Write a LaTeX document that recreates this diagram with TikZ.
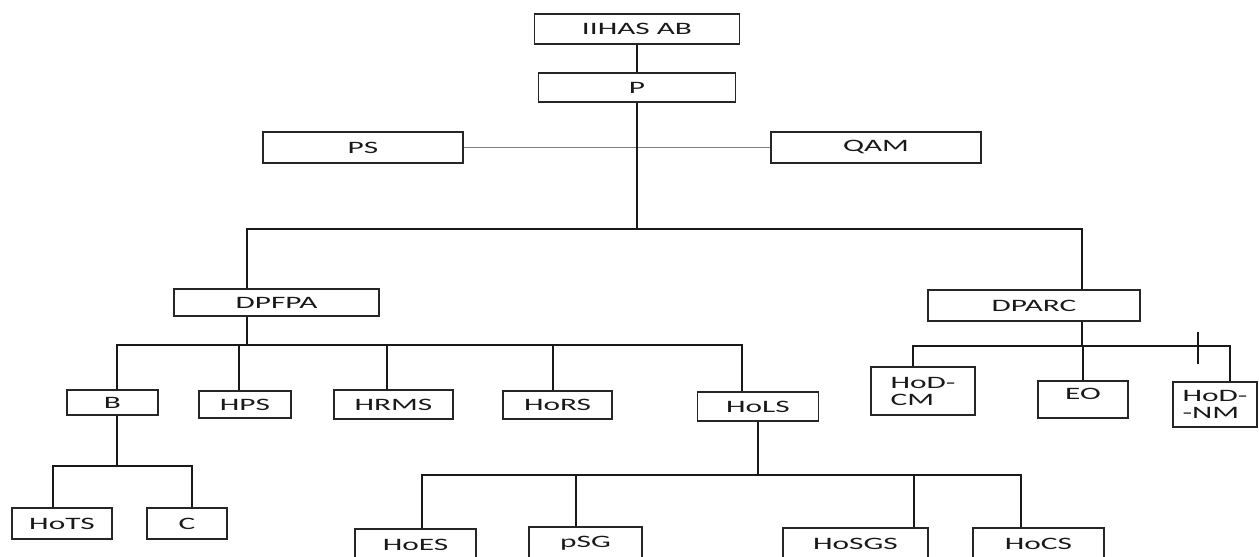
\documentclass[tikz,border=0pt]{standalone}
\usepackage{fontspec}
\newfontfamily\orgfont[FakeStretch=1.8]{Carlito}
\usetikzlibrary{positioning}
\newlength\px
\setlength\px{0.2mm}
\tikzset{
  box/.style 2 args={draw=black!85, line width=1.1pt, inner sep=0pt,
    minimum width=#1\px, minimum height=#2\px, align=left,
    font=\orgfont\fontsize{9.9}{9.7}\selectfont, text=black!90},
  link/.style={line width=1.1pt, black!90},
  thinlink/.style={line width=0.9pt, black!50}
}
\begin{document}
\begin{tikzpicture}[x=0.2mm, y=-0.2mm]
  \useasboundingbox (0,0) rectangle (1259,556);
  \clip (0,0) rectangle (1259,556);

  %vertice
  \node[box={205}{30}] (iihas) at (637,29) {IIHAS AB};
  \node[box={197}{29}] (p) at (637,87.5) {P};
  \node[box={200}{31}] (ps) at (363,147.5) {PS};
  \node[box={210}{31}] (qam) at (876,147.5) {QAM};
  %due direzioni
  \node[box={205}{27}] (dpfpa) at (276.5,302.5) {DPFPA};
  \node[box={212}{31}] (dparc) at (1034,305.5) {DPARC};
  %sotto DPFPA
  \node[box={91}{25}] (b) at (112.5,402.5) {B};
  \node[box={92}{27}] (hps) at (245,404.5) {HPS};
  \node[box={119}{29}] (hrms) at (393.5,404.5) {HRMS};
  \node[box={109}{28}] (hors) at (557.5,405) {HoRS};
  \node[box={121}{29}] (hols) at (758,406.5) {HoLS};
  %sotto DPARC
  \node[box={104}{48}] (hodcm) at (923,391) {HoD-\\CM};
  \node[box={90}{37}, text depth=2.4mm] (eo) at (1083,399.5) {EO};
  \node[box={84}{45}] (hodnm) at (1215,404.5) {HoD-\\-NM};
  %sotto B
  \node[box={100}{31}] (hots) at (62,523.5) {HoTS};
  \node[box={80}{31}] (c) at (187,523.5) {C};
  %sotto HoLS
  \node[box={121}{32}] (hoes) at (415.5,545) {HoES};
  \node[box={113}{32}] (psg) at (585.5,543) {pSG};
  \node[box={145}{32}] (hosgs) at (855.5,544) {HoSGS};
  \node[box={131}{32}] (hocs) at (1038.5,544) {HoCS};

  %collegamenti in alto
  \draw[thinlink] (ps) -- (qam);
  \coordinate (hub) at (637,229);
  \draw[link] (iihas) -- (p);
  \draw[link] (p) -- (hub);
  \draw[link] ([xshift=-29.5\px]dpfpa.north) |- (hub) -| ([xshift=48\px]dparc.north);

  %ramo DPFPA
  \coordinate (dpbar) at ([xshift=-29.5\px, yshift=-28\px]dpfpa.south);
  \draw[link] ([xshift=-29.5\px]dpfpa.south) -- (dpbar);
  \draw[link] ([xshift=4.5\px]b.north) |- (dpbar) -| ([xshift=-16\px]hols.north);
  \foreach \n/\dx in {hps/-6, hrms/-6.5, hors/-4.5}
    \draw[link] ([xshift=\dx\px]\n.north) -- ([xshift=\dx\px]\n.north |- dpbar);

  %ramo B
  \coordinate (bbar) at ([xshift=4.5\px, yshift=-50\px]b.south);
  \draw[link] ([xshift=4.5\px]b.south) -- (bbar);
  \draw[link] ([xshift=-9\px]hots.north) |- (bbar) -| ([xshift=5\px]c.north);

  %ramo HoLS
  \coordinate (hlbar) at ([yshift=-53\px]hols.south);
  \draw[link] (hols.south) -- (hlbar);
  \draw[link] ([xshift=6.5\px]hoes.north) |- (hlbar) -| ([xshift=-17.5\px]hocs.north);
  \foreach \n/\dx in {psg/-9.5, hosgs/58.5}
    \draw[link] ([xshift=\dx\px]\n.north) -- ([xshift=\dx\px]\n.north |- hlbar);

  %ramo DPARC
  \coordinate (dcbar) at ([xshift=48\px, yshift=-24\px]dparc.south);
  \draw[link] ([xshift=48\px]dparc.south) -- (dcbar);
  \draw[link] ([xshift=-10\px]hodcm.north) |- (dcbar) -| ([xshift=15\px]hodnm.north);
  \draw[link] (eo.north) -- (eo.north |- dcbar);
  \draw[link] ([xshift=-17\px, yshift=17\px]hodnm.north) -- ++(0,-32); %trattino
\end{tikzpicture}
\end{document}
